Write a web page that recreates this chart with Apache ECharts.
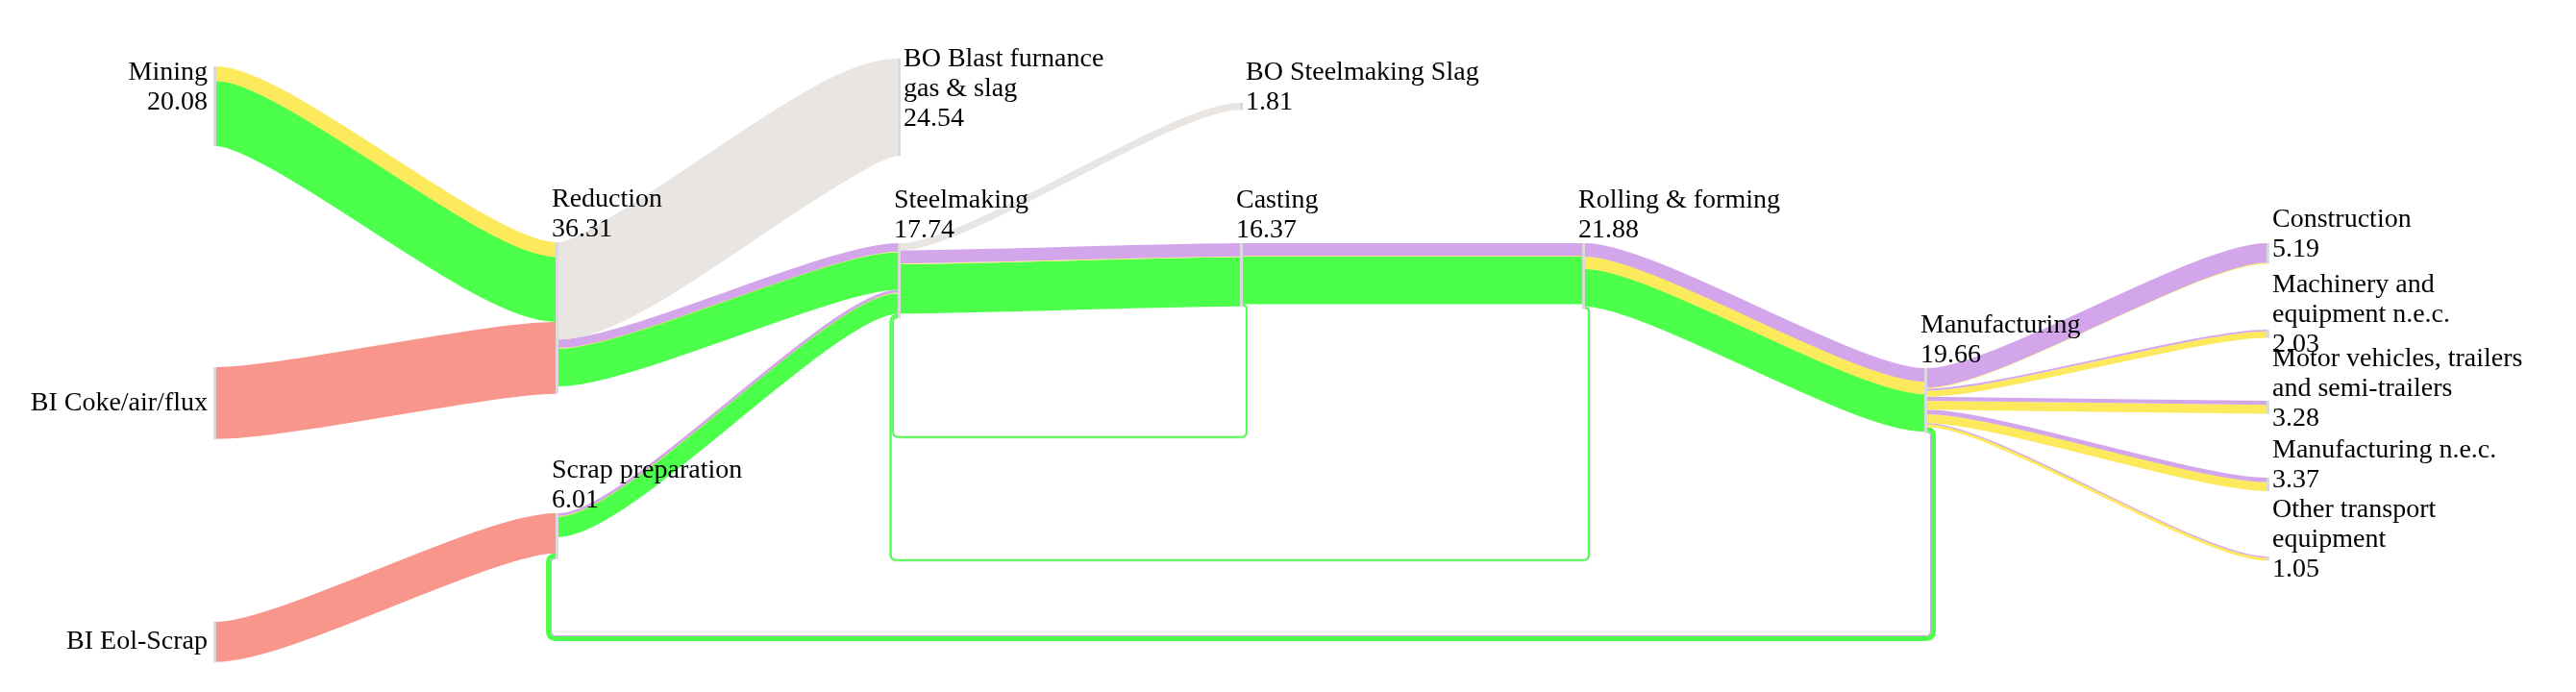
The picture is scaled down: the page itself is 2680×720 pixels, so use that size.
<!DOCTYPE html>
<html>
<head>
<meta charset="utf-8">
<script src="https://cdn.jsdelivr.net/npm/echarts@6/dist/echarts.min.js"></script>
<style>
  html, body { margin: 0; padding: 0; background: #fff; }
  #chart { width: 2680px; height: 720px; }
</style>
</head>
<body>
<div id="chart"></div>
<script>
// ---- data ----
var nodeNames = ['Mining', 'BI Coke/air/flux', 'BI Eol-Scrap', 'Reduction', 'Scrap preparation',
  'BO Blast furnance gas & slag', 'Steelmaking', 'BO Steelmaking Slag', 'Casting', 'Rolling & forming',
  'Manufacturing', 'Construction', 'Machinery and equipment n.e.c.',
  'Motor vehicles, trailers and semi-trailers', 'Manufacturing n.e.c.', 'Other transport equipment'];
var nodeLabels = ['Mining\n20.08', 'BI Coke/air/flux', 'BI Eol-Scrap', 'Reduction\n36.31', 'Scrap preparation\n6.01',
  'BO Blast furnance\ngas & slag\n24.54', 'Steelmaking\n17.74', 'BO Steelmaking Slag\n1.81', 'Casting\n16.37',
  'Rolling & forming\n21.88', 'Manufacturing\n19.66', 'Construction\n5.19', 'Machinery and\nequipment n.e.c.\n2.03',
  'Motor vehicles, trailers\nand semi-trailers\n3.28', 'Manufacturing n.e.c.\n3.37', 'Other transport\nequipment\n1.05'];
var nodeColumns = [0, 0, 0, 1, 1, 2, 2, 3, 3, 4, 5, 6, 6, 6, 6, 6];

// [source, target, value, material]
var flows = [
  ['Mining', 'Reduction', 3.7, 'yellow'],
  ['Mining', 'Reduction', 16.38, 'green'],
  ['BI Coke/air/flux', 'Reduction', 18.1, 'red'],
  ['BI Eol-Scrap', 'Scrap preparation', 10.1, 'red'],
  ['Reduction', 'BO Blast furnance gas & slag', 24.54, 'grey'],
  ['Reduction', 'Steelmaking', 2.1, 'purple'],
  ['Reduction', 'Steelmaking', 0.2, 'yellow'],
  ['Reduction', 'Steelmaking', 9.47, 'green'],
  ['Scrap preparation', 'Steelmaking', 0.7, 'purple'],
  ['Scrap preparation', 'Steelmaking', 0.2, 'yellow'],
  ['Scrap preparation', 'Steelmaking', 5.11, 'green'],
  ['Steelmaking', 'BO Steelmaking Slag', 1.81, 'grey'],
  ['Steelmaking', 'Casting', 3.3, 'purple'],
  ['Steelmaking', 'Casting', 0.2, 'yellow'],
  ['Steelmaking', 'Casting', 12.4, 'green'],
  ['Casting', 'Rolling & forming', 3.2, 'purple'],
  ['Casting', 'Rolling & forming', 0.2, 'yellow'],
  ['Casting', 'Rolling & forming', 11.95, 'green'],
  ['Rolling & forming', 'Manufacturing', 3.4, 'purple'],
  ['Rolling & forming', 'Manufacturing', 3.15, 'yellow'],
  ['Rolling & forming', 'Manufacturing', 9.45, 'green'],
  ['Manufacturing', 'Construction', 4.89, 'purple'],
  ['Manufacturing', 'Construction', 0.3, 'yellow'],
  ['Manufacturing', 'Machinery and equipment n.e.c.', 0.45, 'purple'],
  ['Manufacturing', 'Machinery and equipment n.e.c.', 1.58, 'yellow'],
  ['Manufacturing', 'Motor vehicles, trailers and semi-trailers', 1.0, 'purple'],
  ['Manufacturing', 'Motor vehicles, trailers and semi-trailers', 2.28, 'yellow'],
  ['Manufacturing', 'Manufacturing n.e.c.', 1.1, 'purple'],
  ['Manufacturing', 'Manufacturing n.e.c.', 2.27, 'yellow'],
  ['Manufacturing', 'Other transport equipment', 0.3, 'purple'],
  ['Manufacturing', 'Other transport equipment', 0.75, 'yellow']
];

// recycling flows that run backwards (drawn as loops under the diagram)
var loopFlows = [
  ['Casting', 'Steelmaking', 0.1, 'purple'],
  ['Casting', 'Steelmaking', 0.45, 'green'],
  ['Rolling & forming', 'Steelmaking', 0.1, 'purple'],
  ['Rolling & forming', 'Steelmaking', 0.5, 'green'],
  ['Manufacturing', 'Scrap preparation', 1.2, 'green'],
  ['Manufacturing', 'Scrap preparation', 0.25, 'purple']
];

// ---- layout & style ----
var colors = { green: '#4bff4b', yellow: '#fde95c', purple: '#d3a6ec', red: '#f9968b', grey: '#e8e5e2' };
var boxLeft = 222, boxTop = 40, boxWidth = 2139, boxHeight = 640;
var pxPerUnit = 4.13;
var linkCurveness = 0.2;
var nodeTopPx = [69, 382, 647, 252, 534, 61, 253, 107, 253, 253, 383, 253, 343, 417, 497, 579];
var nodeLabelSide = ['leftTop', 'left', 'left', 'above', 'above', 'right', 'above', 'right', 'above', 'above',
  'above', 'right', 'right', 'right', 'right', 'right'];
var loopBottomPx = { 'Casting>Steelmaking': 455, 'Rolling & forming>Steelmaking': 583, 'Manufacturing>Scrap preparation': 664 };

var chart = echarts.init(document.getElementById('chart'));

var inSum = {}, outSum = {};
flows.concat(loopFlows).forEach(function (f) {
  outSum[f[0]] = (outSum[f[0]] || 0) + f[2];
  inSum[f[1]] = (inSum[f[1]] || 0) + f[2];
});

function labelFor(i) {
  var side = nodeLabelSide[i];
  if (side === 'above') {
    return { formatter: nodeLabels[i], position: [-4, 2], align: 'left', verticalAlign: 'bottom' };
  }
  if (side === 'leftTop') {
    return { formatter: nodeLabels[i], position: 'left', distance: 6, offset: [0, -19] };
  }
  if (side === 'left') {
    return { formatter: nodeLabels[i], position: 'left', distance: 6 };
  }
  return { formatter: nodeLabels[i], position: 'right', distance: 3, offset: [0, -19.5] };
}

var nodes = nodeNames.map(function (name, i) {
  return {
    name: name,
    depth: nodeColumns[i],
    value: Math.max(inSum[name] || 0, outSum[name] || 0),
    localY: (nodeTopPx[i] - boxTop) / boxHeight,
    label: labelFor(i)
  };
});

var links = flows.map(function (f) {
  return { source: f[0], target: f[1], value: f[2] };
});

// node gap chosen so the tightest column gives the wanted px per unit
var columns = {};
nodes.forEach(function (n) {
  columns[n.depth] = columns[n.depth] || { count: 0, sum: 0 };
  columns[n.depth].count += 1;
  columns[n.depth].sum += n.value;
});
var nodeGap = Infinity;
Object.keys(columns).forEach(function (k) {
  var c = columns[k];
  if (c.count > 1) {
    nodeGap = Math.min(nodeGap, (boxHeight - pxPerUnit * c.sum) / (c.count - 1));
  }
});

// group loop flows into loops
var loops = [];
loopFlows.forEach(function (f) {
  var key = f[0] + '>' + f[1];
  var lp = loops.filter(function (l) { return l.key === key; })[0];
  if (!lp) {
    lp = { key: key, source: f[0], target: f[1], bands: [], level: (loopBottomPx[key] - boxTop) / boxHeight };
    loops.push(lp);
  }
  lp.bands.push({ value: f[2], color: colors[f[3]] });
});

function sankeyState() {
  var sm = chart.getModel().getSeriesByIndex(0);
  var graph = sm.getGraph();
  var box = sm.layoutInfo;
  var l0 = graph.getNodeByIndex(0).getLayout();
  return { graph: graph, box: box, ky: l0.dy / l0.value };
}

function nodeRect(st, node) {
  var l = node.getLayout();
  var ly = node.getModel().get('localY');
  var inUsed = 0, outUsed = 0;
  node.inEdges.forEach(function (e) { inUsed += e.getLayout().dy; });
  node.outEdges.forEach(function (e) { outUsed += e.getLayout().dy; });
  return {
    x: st.box.x + l.x,
    y: st.box.y + (ly != null ? ly * st.box.height : l.y),
    dx: l.dx, inUsed: inUsed, outUsed: outUsed
  };
}

// forward flows: a thick stroke along a horizontal bezier
function flowPath(i) {
  var st = sankeyState();
  var edge = st.graph.getEdgeByIndex(i);
  var el = edge.getLayout();
  var a = nodeRect(st, edge.node1), b = nodeRect(st, edge.node2);
  var x0 = a.x + a.dx, y0 = a.y + el.sy + el.dy / 2;
  var x1 = b.x, y1 = b.y + el.ty + el.dy / 2;
  var k = (x1 - x0) * linkCurveness;
  return { d: ['M', x0, y0, 'C', x0 + k, y0, x1 - k, y1, x1, y1].join(' '), width: el.dy };
}

function loopGeometry() {
  var st = sankeyState();
  var ky = st.ky;
  var srcStack = {}, tgtStack = {};
  loops.forEach(function (lp) {
    lp.w = 0;
    lp.bands.forEach(function (b) { lp.w += b.value * ky; });
    lp.srcOff = srcStack[lp.source] || 0;
    srcStack[lp.source] = lp.srcOff + lp.w;
  });
  loops.slice().sort(function (a, b) { return b.level - a.level; }).forEach(function (lp) {
    lp.tgtOff = tgtStack[lp.target] || 0;
    tgtStack[lp.target] = lp.tgtOff + lp.w;
  });

  var out = [];
  loops.forEach(function (lp) {
    var S = nodeRect(st, st.graph.getNodeById(lp.source));
    var T = nodeRect(st, st.graph.getNodeById(lp.target));
    var Ws = srcStack[lp.source], Wt = tgtStack[lp.target];
    var yBase = st.box.y + lp.level * st.box.height;
    var d = 0;
    lp.bands.forEach(function (b) {
      var bw = b.value * ky;
      var c = d + bw / 2;
      d += bw;
      var cS = lp.srcOff + c, cT = lp.tgtOff + c;
      var xs = S.x + S.dx, ys = S.y + S.outUsed + cS;
      var xt = T.x, yt = T.y + T.inUsed + cT;
      var xR = xs + 3 + (Ws - cS);
      var xL = xt - 4 - (Wt - cT);
      var yB = yBase + (lp.w / 2 - c);
      var rb = 5 + (lp.w - c);
      var r1 = xR - xs;
      var p = [
        'M', xs, ys,
        'Q', xR, ys, xR, ys + r1,
        'L', xR, yB - rb,
        'Q', xR, yB, xR - rb, yB,
        'L', xL + rb, yB,
        'Q', xL, yB, xL, yB - rb,
        'L', xL, yt + (xt - xL),
        'Q', xL, yt, xt, yt
      ].join(' ');
      out.push({ d: p, color: b.color, width: bw });
    });
  });
  return out;
}

// upper bands are painted last so they sit on top where strokes overlap
var flowOrder = flows.map(function (f, i) { return i; }).reverse();
var bandIndex = loopFlows.map(function (f, i) { return i; });

var option = {
  backgroundColor: '#fff',
  animation: false,
  series: [
    {
      type: 'sankey',
      left: boxLeft,
      top: boxTop,
      width: boxWidth,
      height: boxHeight,
      nodeWidth: 3,
      nodeGap: nodeGap,
      nodeAlign: 'left',
      layoutIterations: 0,
      draggable: false,
      silent: true,
      z: 2,
      emphasis: { disabled: true },
      itemStyle: { color: '#dadada', borderWidth: 0 },
      lineStyle: { curveness: 0.5, opacity: 0 },
      label: {
        color: '#000',
        fontFamily: '"Liberation Serif", "Times New Roman", serif',
        fontSize: 28,
        lineHeight: 31
      },
      data: nodes,
      links: links
    },
    {
      type: 'custom',
      coordinateSystem: 'none',
      silent: true,
      z: 1,
      data: flowOrder,
      renderItem: function (params, api) {
        var i = api.value(0);
        var g = flowPath(i);
        return {
          type: 'path',
          shape: { pathData: g.d },
          style: { fill: 'none', stroke: colors[flows[i][3]], lineWidth: g.width, lineCap: 'butt' }
        };
      }
    },
    {
      type: 'custom',
      coordinateSystem: 'none',
      silent: true,
      z: 1,
      data: bandIndex,
      renderItem: function (params) {
        var g = loopGeometry()[params.dataIndex];
        return {
          type: 'path',
          shape: { pathData: g.d },
          style: { fill: 'none', stroke: g.color, lineWidth: g.width, lineCap: 'butt' }
        };
      }
    }
  ]
};

chart.setOption(option);
</script>
</body>
</html>
